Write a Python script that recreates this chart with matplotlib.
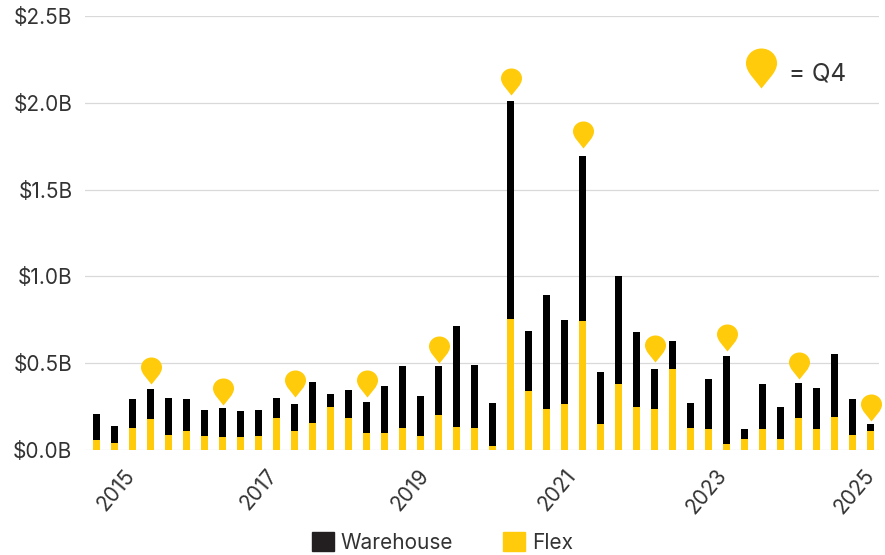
import numpy as np
import matplotlib
matplotlib.use("Agg")
import matplotlib.pyplot as plt
from matplotlib.patches import Patch
from matplotlib.path import Path

# quarterly volume in $B, 2015 through 2025
flex = [0.060, 0.039, 0.127, 0.178, 0.087, 0.108, 0.083, 0.073, 0.077, 0.081, 0.187, 0.108,
        0.156, 0.245, 0.183, 0.098, 0.098, 0.125, 0.079, 0.201, 0.133, 0.125, 0.025, 0.755,
        0.338, 0.236, 0.265, 0.743, 0.152, 0.378, 0.248, 0.238, 0.465, 0.125, 0.121, 0.035,
        0.061, 0.123, 0.063, 0.182, 0.121, 0.190, 0.086, 0.108]
total = [0.205, 0.141, 0.292, 0.349, 0.299, 0.295, 0.228, 0.243, 0.222, 0.232, 0.301, 0.264,
         0.394, 0.324, 0.346, 0.274, 0.369, 0.485, 0.311, 0.485, 0.714, 0.487, 0.268, 2.010,
         0.685, 0.893, 0.749, 1.695, 0.447, 1.000, 0.682, 0.465, 0.628, 0.269, 0.409, 0.540,
         0.121, 0.378, 0.250, 0.388, 0.357, 0.551, 0.294, 0.148]

# Q4 pins: which bar, and the height of the pin's tip in $B
q4_bars = [3, 7, 11, 15, 19, 23, 27, 31, 35, 39, 43]
q4_tips = [0.382, 0.259, 0.303, 0.307, 0.503, 2.045, 1.740, 0.505, 0.570, 0.409, 0.167]

year_labels = ["2015", "2017", "2019", "2021", "2023", "2025"]
year_ticks = [1.08, 9.0, 17.4, 25.6, 33.9, 42.1]
y_ticks = [0.0, 0.5, 1.0, 1.5, 2.0, 2.5]

YELLOW = "#FFCB0A"
TEXT = "#333333"

plt.rcParams["font.family"] = "Inter"

# teardrop with its tip on the origin
pin = Path(
    [(0, 0), (-6.9, 8.6), (-8.8, 11.0), (-10.5, 14.0), (-10.5, 17.0),
     (-10.5, 22.6), (-5.8, 27), (0, 27),
     (5.8, 27), (10.5, 22.6), (10.5, 17.0),
     (10.5, 14.0), (8.8, 11.0), (6.9, 8.6), (0, 0)],
    [Path.MOVETO, Path.LINETO, Path.CURVE4, Path.CURVE4, Path.CURVE4,
     Path.CURVE4, Path.CURVE4, Path.CURVE4,
     Path.CURVE4, Path.CURVE4, Path.CURVE4,
     Path.CURVE4, Path.CURVE4, Path.CURVE4, Path.LINETO],
)

fig = plt.figure(figsize=(8.85, 5.55), dpi=100)
ax = fig.add_axes([85 / 885, 1 - 450 / 555, (879 - 85) / 885, (450 - 16) / 555])

x = np.arange(len(flex))
warehouse = np.array(total) - np.array(flex)
ax.bar(x, flex, width=0.405, color=YELLOW, zorder=3)
ax.bar(x, warehouse, width=0.405, bottom=flex, color="black", zorder=3)

ax.plot(x[q4_bars], q4_tips, linestyle="none", marker=pin, markersize=38.9,
        markerfacecolor=YELLOW, markeredgecolor="none", clip_on=False, zorder=4)

# key for the pins, top right
ax.plot([0.8514], [0.834], transform=ax.transAxes, marker=pin, markersize=57.6,
        markerfacecolor=YELLOW, markeredgecolor="none", clip_on=False, zorder=4)
ax.text(0.887, 0.866, "= Q4", transform=ax.transAxes, fontsize=17.5, color=TEXT,
        ha="left", va="center")

ax.set_xlim(-0.64, 43.47)
ax.set_ylim(0, 2.5)
ax.set_yticks(y_ticks)
ax.set_yticklabels(["$%.1fB" % v for v in y_ticks])
ax.set_xticks(year_ticks)
ax.set_xticklabels(year_labels, rotation=50, ha="center")

ax.grid(axis="y", color="#D9D9D9", linewidth=0.9, zorder=0)
ax.tick_params(axis="y", length=0, pad=9, labelsize=15, labelcolor=TEXT)
ax.tick_params(axis="x", length=0, pad=11, labelsize=15, labelcolor=TEXT)
for side in ax.spines:
    ax.spines[side].set_visible(False)

handles = [Patch(color="#231F20", label="Warehouse"), Patch(color=YELLOW, label="Flex")]
fig.legend(handles=handles, ncol=2, loc="lower left", bbox_to_anchor=(293 / 885, -0.03),
           frameon=False, fontsize=15, labelcolor=TEXT, handlelength=1.05, handleheight=1.05,
           handletextpad=0.35, columnspacing=2.4)

fig.savefig("out.png", dpi=100)
